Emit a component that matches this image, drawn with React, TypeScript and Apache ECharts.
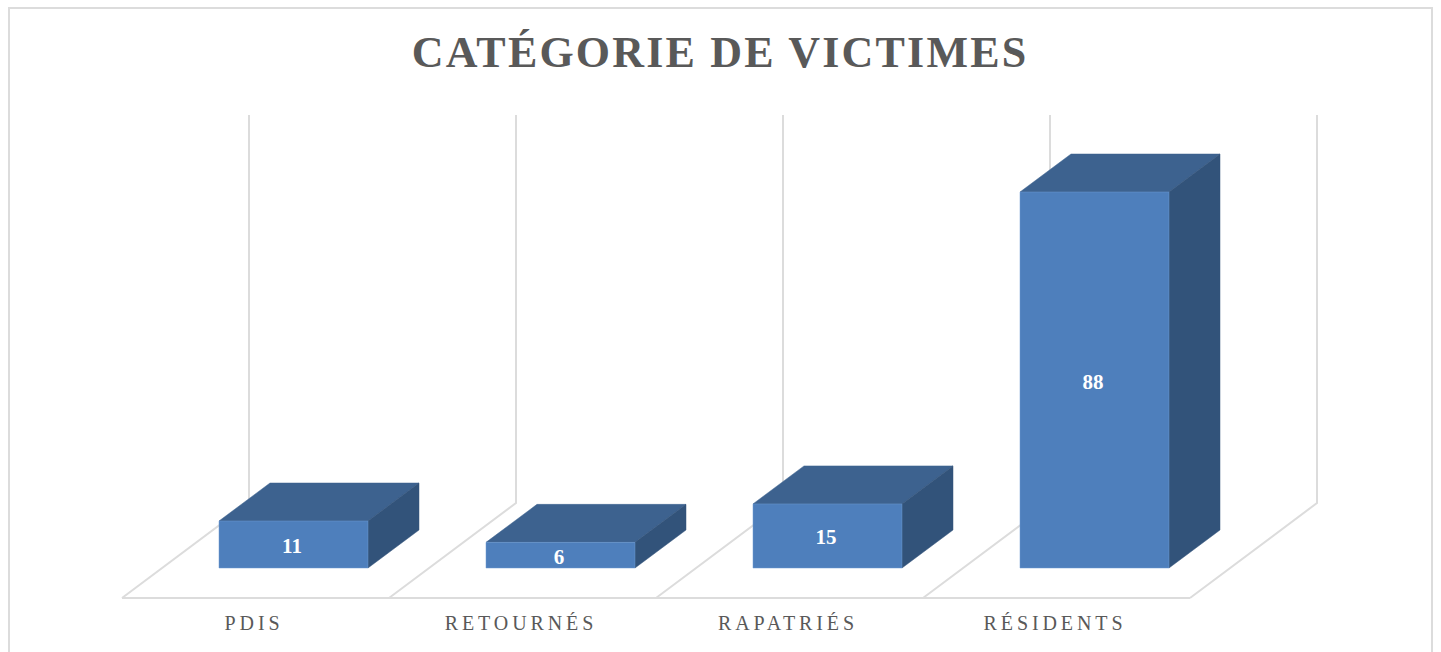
import React, { useEffect, useRef } from "react";
import * as echarts from "echarts";

const titleText = "CATÉGORIE DE VICTIMES";
const categories = ["PDIS", "RETOURNÉS", "RAPATRIÉS", "RÉSIDENTS"];
const victims = [11, 6, 15, 88];

const FRONT = "#4e7fbc";
const TOP = "#3d628f";
const SIDE = "#32537a";
const EDGE = "#dcdcdc";
const DX = 51;
const DY = 38;

export default function App() {
  const ref = useRef<HTMLDivElement>(null);
  useEffect(() => {
    document.body.style.overflow = "hidden";
    const chart = echarts.init(ref.current!, null, { renderer: "svg" });
    chart.setOption({
      animation: false,
      backgroundColor: "#fff",
      title: {
        text: titleText,
        left: 707,
        top: 17,
        textAlign: "center",
        textStyle: { fontFamily: "Liberation Serif", fontSize: 44, fontWeight: "bold", color: "#595959" },
      },
      grid: { left: 114, width: 1068, top: 132.73, bottom: 84 },
      xAxis: {
        type: "category",
        data: categories,
        axisLine: { show: false },
        axisTick: { show: false },
        splitLine: { show: false },
        axisLabel: {
          margin: 45,
          fontFamily: "Liberation Serif",
          fontSize: 20,
          color: "#595959",
          interval: 0,
          padding: [0, 3, 0, 0],
        },
      },
      yAxis: { type: "value", min: 0, max: 100, show: false },
      series: [
        {
          type: "custom",
          name: "floor",
          z: 1,
          silent: true,
          data: categories.map((_, i) => [i, 0]),
          encode: { x: 0, y: 1 },
          renderItem: (params: any, api: any) => {
            const i = api.value(0);
            const [cx, y0] = api.coord([i, 0]);
            const band = api.size([1, 0])[0];
            const x = cx - band / 2;
            const yF = y0 + 30;
            const yB = yF - 95;
            const yT = 107;
            const line = { stroke: EDGE, lineWidth: 2, fill: "none" };
            const kids: any[] = [
              { type: "polyline", shape: { points: [[x, yF], [x + band, yF]] }, style: line },
              { type: "polyline", shape: { points: [[x, yF], [x + 127, yB], [x + 127, yT]] }, style: line },
            ];
            if (i === categories.length - 1) {
              kids.push({
                type: "polyline",
                shape: { points: [[x + band, yF], [x + band + 127, yB], [x + band + 127, yT]] },
                style: line,
              });
            }
            return { type: "group", children: kids };
          },
        },
        {
          type: "custom",
          name: "Victimes",
          z: 2,
          silent: true,
          data: victims.map((v, i) => [i, v]),
          encode: { x: 0, y: 1 },
          renderItem: (params: any, api: any) => {
            const i = api.value(0);
            const v = api.value(1);
            const [cx, y0] = api.coord([i, 0]);
            const [, y1] = api.coord([i, v]);
            const band = api.size([1, 0])[0];
            const w = band * 0.558;
            const c = cx + 38;
            const l = c - w / 2;
            const r = c + w / 2;
            return {
              type: "group",
              children: [
                {
                  type: "polygon",
                  shape: { points: [[l, y1], [r, y1], [r + DX, y1 - DY], [l + DX, y1 - DY]] },
                  style: { fill: TOP, stroke: TOP, lineWidth: 0.5 },
                },
                {
                  type: "polygon",
                  shape: { points: [[r, y1], [r + DX, y1 - DY], [r + DX, y0 - DY], [r, y0]] },
                  style: { fill: SIDE, stroke: SIDE, lineWidth: 0.5 },
                },
                {
                  type: "rect",
                  shape: { x: l, y: y1, width: w, height: y0 - y1 },
                  style: { fill: FRONT, stroke: "#6f9bd0", lineWidth: 0.5 },
                },
                {
                  type: "text",
                  x: c - 1.5,
                  y: (y0 + y1) / 2 + 1.5,
                  style: {
                    text: String(v),
                    fill: "#fff",
                    fontFamily: "Liberation Serif",
                    fontWeight: "bold",
                    fontSize: 21,
                    align: "center",
                    verticalAlign: "middle",
                  },
                },
              ],
            };
          },
        },
      ],
    });
    ref.current!.querySelectorAll("text").forEach((t: any) => {
      const s = t.textContent || "";
      if (s === titleText) t.style.letterSpacing = "2.2px";
      else if (categories.includes(s)) t.style.letterSpacing = "3.9px";
    });
    return () => chart.dispose();
  }, []);
  return (
    <>
      <div ref={ref} style={{ width: 1425, height: 644 }} />
      <div
        style={{
          position: "absolute",
          left: 8,
          top: 7,
          width: 1425,
          height: 670,
          boxSizing: "border-box",
          border: "2px solid #dcdcdc",
          pointerEvents: "none",
        }}
      />
    </>
  );
}
